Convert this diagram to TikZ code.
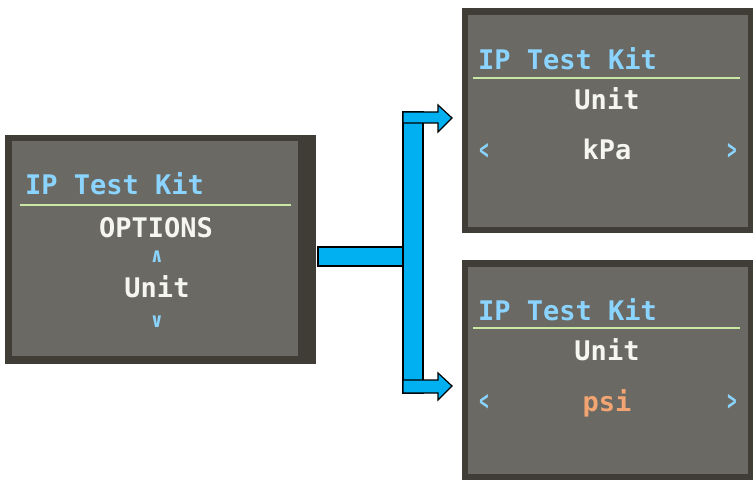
\documentclass[tikz,border=0pt]{standalone}
\usepackage{fontspec}
\usepackage{tikz}
\usetikzlibrary{calc,positioning}
\newfontfamily\lcdfont{DejaVu Sans Mono}
\definecolor{framegray}{HTML}{403D37}
\definecolor{facegray}{HTML}{6A6963}
\definecolor{lcdcyan}{HTML}{8AD4FF}
\definecolor{lcdwhite}{HTML}{F6F6F0}
\definecolor{lcdline}{HTML}{C8E8A4}
\definecolor{lcdorange}{HTML}{F2A472}
\definecolor{connblue}{HTML}{00B0F0}
\newcommand{\lcdnarrow}[1]{\scalebox{0.55}[1]{#1}}
\tikzset
{
    screen/.style     = {fill=framegray, inner sep=0pt, outer sep=0pt},
    screenface/.style = {fill=facegray},
    lcdtitle/.style   = {anchor=base west, inner sep=0pt, text=lcdcyan, font=\lcdfont\bfseries\fontsize{27}{27}\selectfont},
    lcdtext/.style    = {anchor=base, inner sep=0pt, text=lcdwhite, font=\lcdfont\bfseries\fontsize{27}{27}\selectfont},
    lcdarrow/.style   = {inner sep=0pt, text=lcdcyan, font=\lcdfont\bfseries\fontsize{20}{20}\selectfont},
    lcdside/.style    = {inner sep=0pt, text=lcdcyan, font=\lcdfont\bfseries\fontsize{28}{28}\selectfont},
    titleline/.style  = {draw=lcdline, line width=2pt},
    conn/.style       = {fill=connblue, draw=black, line width=1.2pt, line join=miter}
}
\begin{document}
\begin{tikzpicture}[x=1pt, y=-1pt]
    \useasboundingbox (0,0) rectangle (753,481);
    \fill [white] (0,0) rectangle (753,481);

    % options screen
    \node [screen, minimum width=311pt, minimum height=229pt] (options) at (160.5,249.5) {};
    \fill [screenface] ($(options.south west)+(7,-8)$) rectangle ($(options.north east)+(-18,6)$);
    \node [lcdtitle] (optionstitle) at (25,195) {IP Test Kit};
    \draw [titleline] (20,205) -- (291,205);
    \node [lcdtext] (optionshead) at (156,238) {OPTIONS};
    \node [lcdarrow] (optionsup) at (157,257) {∧};
    \node [lcdtext] (optionsunit) at (157,298) {Unit};
    \node [lcdarrow] (optionsdown) at (157,322) {∨};

    % kPa screen
    \node [screen, minimum width=291pt, minimum height=225pt] (kpa) at (607.5,120.5) {};
    \fill [screenface] ($(kpa.south west)+(6,-6)$) rectangle ($(kpa.north east)+(-5,7)$);
    \node [lcdtitle] (kpatitle) at (478,70) {IP Test Kit};
    \draw [titleline] (473,78) -- (740,78);
    \node [lcdtext] (kpaunit) at (607,110) {Unit};
    \node [lcdside] (kpaleft) at (484,151) {\lcdnarrow{<}};
    \node [lcdtext] (kpavalue) at (607,160) {kPa};
    \node [lcdside] (kparight) at (732,151) {\lcdnarrow{>}};

    % psi screen
    \node [screen, minimum width=291pt, minimum height=220pt] (psi) at (607.5,370) {};
    \fill [screenface] ($(psi.south west)+(6,-6)$) rectangle ($(psi.north east)+(-5,7)$);
    \node [lcdtitle] (psititle) at (478,320) {IP Test Kit};
    \draw [titleline] (473,328) -- (740,328);
    \node [lcdtext] (psiunit) at (607,360) {Unit};
    \node [lcdside] (psileft) at (484,402) {\lcdnarrow{<}};
    \node [lcdtext, text=lcdorange] (psivalue) at (607,411) {psi};
    \node [lcdside] (psiright) at (732,402) {\lcdnarrow{>}};

    % connector
    \coordinate (split) at (413,256.5);
    \coordinate (topend) at (452,118);
    \coordinate (botend) at (452,386);
    \filldraw [conn] ($(options.east|-split)+(2,-9.5)$) rectangle ($(split)+(-10,9.5)$);
    \filldraw [conn] ($(split|-topend)+(-10,-6)$) rectangle ($(split|-botend)+(10,7)$);
    \filldraw [conn] ($(topend)+(-49,-6)$) -- ($(topend)+(-14,-6)$) -- ($(topend)+(-14,-13)$)
        -- (topend) -- ($(topend)+(-14,14)$) -- ($(topend)+(-14,5)$) -- ($(topend)+(-49,5)$) -- cycle;
    \filldraw [conn] ($(botend)+(-49,-6)$) -- ($(botend)+(-14,-6)$) -- ($(botend)+(-14,-13)$)
        -- (botend) -- ($(botend)+(-14,14)$) -- ($(botend)+(-14,7)$) -- ($(botend)+(-49,7)$) -- cycle;
\end{tikzpicture}
\end{document}
